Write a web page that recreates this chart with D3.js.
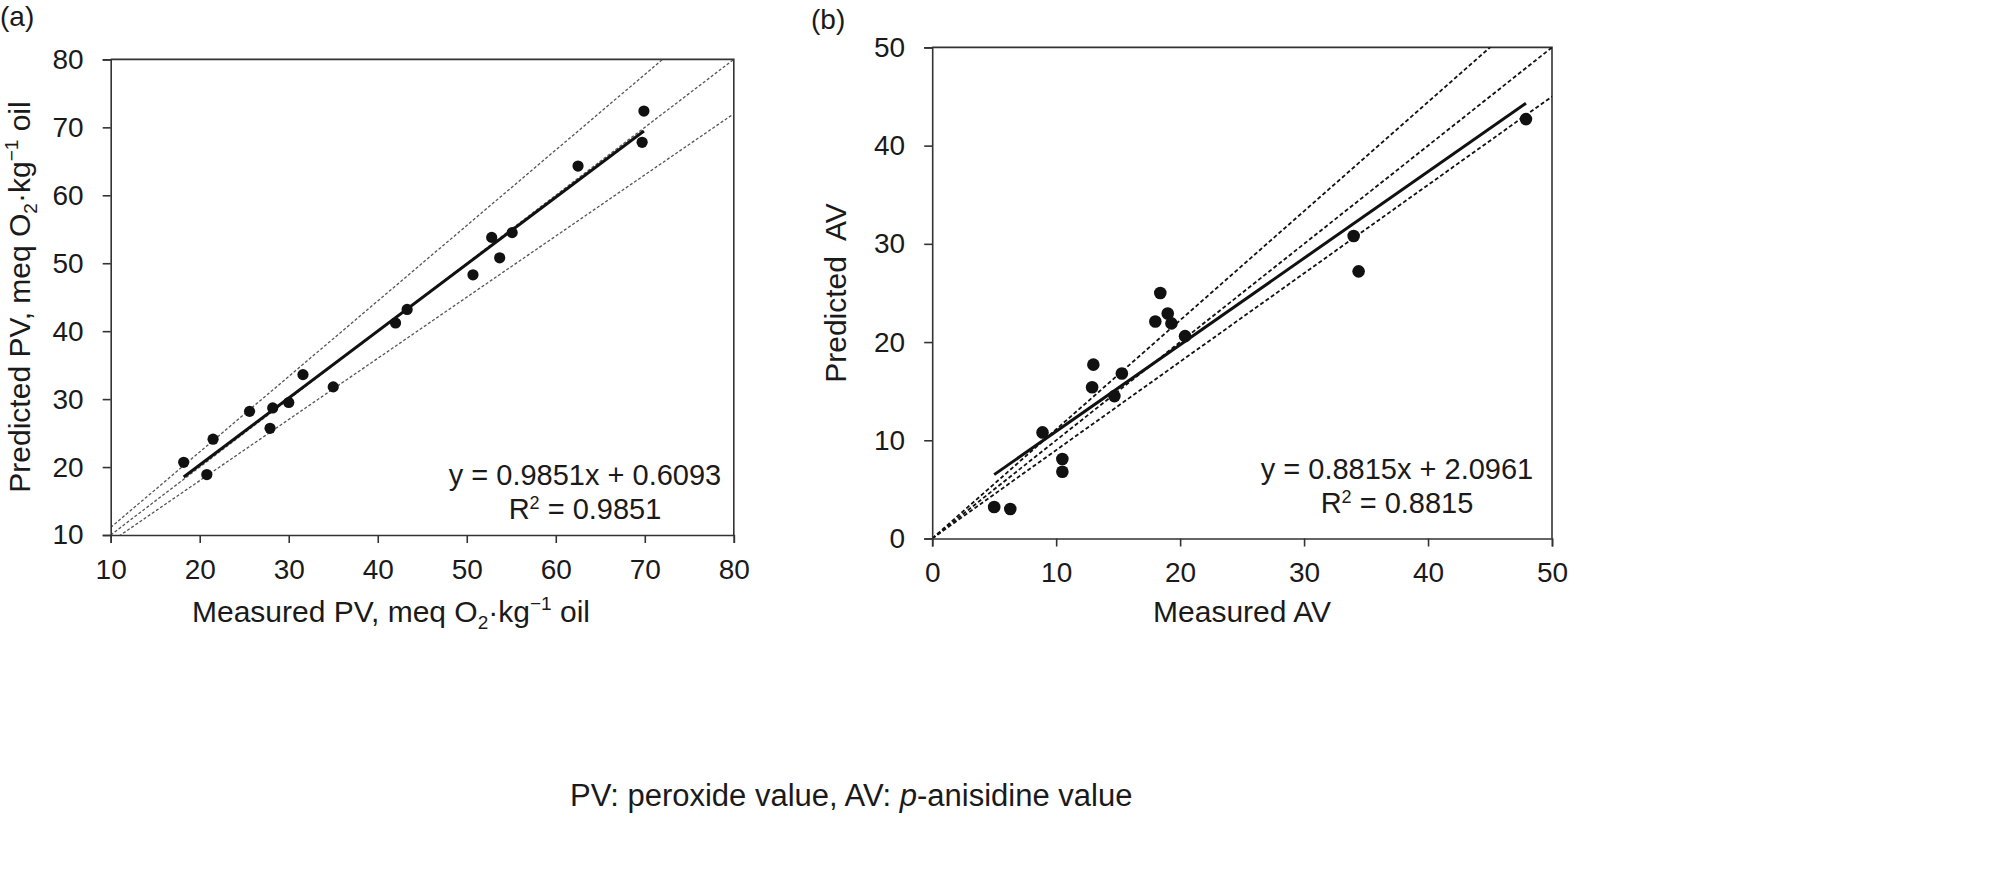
<!DOCTYPE html>
<html>
<head>
<meta charset="utf-8">
<script src="https://cdn.jsdelivr.net/npm/d3@7"></script>
<style>
  html, body { margin: 0; padding: 0; background: #fff; }
  svg text { font-family: "Liberation Sans", Arial, Helvetica, sans-serif; fill: #1a1a1a; }
</style>
</head>
<body>
<svg id="chart" width="2010" height="886"></svg>
<script>
// ---- Data ----
const pvMeasured  = [18.2, 20.8, 21.5, 25.6, 27.9, 28.2, 30.0, 31.6, 35.0, 42.0, 43.3, 50.7, 52.8, 53.7, 55.1, 62.5, 69.9, 69.7];
const pvPredicted = [20.7, 18.9, 24.1, 28.2, 25.7, 28.7, 29.5, 33.6, 31.8, 41.2, 43.2, 48.3, 53.8, 50.8, 54.5, 64.3, 72.4, 67.8];
const avMeasured  = [5.0, 6.3, 8.9, 10.5, 10.5, 13.0, 12.9, 14.7, 15.3, 18.0, 18.4, 19.0, 19.3, 20.4, 34.0, 34.4, 47.9];
const avPredicted = [3.2, 3.0, 10.8, 8.1, 6.8, 17.7, 15.4, 14.5, 16.8, 22.1, 25.0, 22.9, 21.9, 20.6, 30.8, 27.2, 42.7];
const pvTicks = [10, 20, 30, 40, 50, 60, 70, 80];
const avTicks = [0, 10, 20, 30, 40, 50];
const pvFit = { slope: 0.9851, intercept: 0.6093, r2: "0.9851", eq: "y = 0.9851x + 0.6093" };
const avFit = { slope: 0.8815, intercept: 2.0961, r2: "0.8815", eq: "y = 0.8815x + 2.0961" };
const refSlopes = [1 / 0.9, 1, 0.9];

const svg = d3.select("#chart");

function panel(opt) {
  const x = d3.scaleLinear().domain(opt.domain).range([opt.left, opt.right]);
  const y = d3.scaleLinear().domain(opt.domain).range([opt.bottom, opt.top]);
  const g = svg.append("g");
  const clipId = "clip-" + opt.name;
  svg.append("clipPath").attr("id", clipId).append("rect")
    .attr("x", opt.left).attr("y", opt.top)
    .attr("width", opt.right - opt.left).attr("height", opt.bottom - opt.top);

  // frame (top / right)
  g.append("path")
    .attr("d", `M${opt.left},${opt.top}H${opt.right}V${opt.bottom}`)
    .attr("fill", "none").attr("stroke", "#333").attr("stroke-width", 1.6);

  // reference lines (y = x, +/-10 %)
  const d0 = opt.domain[0], d1 = opt.domain[1];
  const refG = g.append("g").attr("clip-path", `url(#${clipId})`);
  refSlopes.forEach(s => {
    refG.append("line")
      .attr("x1", x(d0)).attr("y1", y(s * d0))
      .attr("x2", x(d1)).attr("y2", y(s * d1))
      .attr("stroke", opt.dashColor).attr("stroke-width", opt.dashWidth)
      .attr("stroke-dasharray", opt.dash);
  });

  // regression line from min to max measured value
  const xmin = d3.min(opt.xs), xmax = d3.max(opt.xs);
  g.append("line")
    .attr("x1", x(xmin)).attr("y1", y(opt.fit.slope * xmin + opt.fit.intercept))
    .attr("x2", x(xmax)).attr("y2", y(opt.fit.slope * xmax + opt.fit.intercept))
    .attr("stroke", "#111").attr("stroke-width", 3).attr("stroke-linecap", "butt");

  // points
  g.append("g").selectAll("circle").data(opt.xs.map((v, i) => [v, opt.ys[i]])).join("circle")
    .attr("cx", d => x(d[0])).attr("cy", d => y(d[1])).attr("r", opt.r).attr("fill", "#111");

  // axes
  const xa = g.append("g").attr("transform", `translate(0,${opt.bottom})`)
    .call(d3.axisBottom(x).tickValues(opt.ticks).tickFormat(d3.format("d")).tickSize(8).tickPadding(16));
  const ya = g.append("g").attr("transform", `translate(${opt.left},0)`)
    .call(d3.axisLeft(y).tickValues(opt.ticks).tickFormat(d3.format("d")).tickSize(8).tickPadding(19));
  [xa, ya].forEach(a => {
    a.select(".domain").attr("stroke", "#333").attr("stroke-width", 1.6);
    a.selectAll(".tick line").attr("stroke", "#333").attr("stroke-width", 1.6);
    a.selectAll(".tick text").attr("font-size", 28).attr("fill", "#1a1a1a")
      .attr("font-family", "Liberation Sans, Arial, sans-serif");
  });

  // equation
  g.append("text").attr("x", opt.eqX).attr("y", opt.eqY)
    .attr("text-anchor", "middle").attr("font-size", 29).text(opt.fit.eq);
  const r2 = g.append("text").attr("x", opt.eqX).attr("y", opt.eqY + 34)
    .attr("text-anchor", "middle").attr("font-size", 29);
  r2.append("tspan").text("R");
  r2.append("tspan").attr("font-size", 18).attr("dy", -10).text("2");
  r2.append("tspan").attr("dy", 10).text(" = " + opt.fit.r2);

  // panel label
  g.append("text").attr("x", opt.labX).attr("y", opt.labY).attr("font-size", 28).text(opt.label);
  return { x, y, g };
}

panel({
  name: "a", domain: [10, 80], ticks: pvTicks,
  left: 110.7, right: 733.8, top: 59.4, bottom: 535,
  xs: pvMeasured, ys: pvPredicted, fit: pvFit, r: 5.6,
  dashColor: "#555", dashWidth: 1.3, dash: "3,2",
  eqX: 585, eqY: 485, label: "(a)", labX: 0, labY: 26
});
panel({
  name: "b", domain: [0, 50], ticks: avTicks,
  left: 932.2, right: 1552, top: 47.4, bottom: 538.5,
  xs: avMeasured, ys: avPredicted, fit: avFit, r: 6.3,
  dashColor: "#111", dashWidth: 1.8, dash: "4,2.5",
  eqX: 1397, eqY: 479, label: "(b)", labX: 811, labY: 29
});

// axis titles with sub/superscripts
function unitTitle(parent, attrs, prefix) {
  const t = parent.append("text").attr("font-size", 30).attr("text-anchor", "middle");
  Object.entries(attrs).forEach(([k, v]) => t.attr(k, v));
  t.append("tspan").text(prefix + "meq O");
  t.append("tspan").attr("font-size", 19).attr("dy", 7).text("2");
  t.append("tspan").attr("dy", -7).text("·kg");
  t.append("tspan").attr("font-size", 19).attr("dy", -12).text("−1");
  t.append("tspan").attr("dy", 12).text(" oil");
  return t;
}
unitTitle(svg, { x: 391, y: 622 }, "Measured PV, ");
unitTitle(svg, { transform: "translate(30,297) rotate(-90)" }, "Predicted PV, ");

svg.append("text").attr("x", 1242).attr("y", 622).attr("text-anchor", "middle")
  .attr("font-size", 30).text("Measured AV");
svg.append("text").attr("transform", "translate(846,293) rotate(-90)").attr("text-anchor", "middle")
  .attr("font-size", 30).style("white-space", "pre").text("Predicted  AV");

// caption
const cap = svg.append("text").attr("x", 570).attr("y", 806).attr("text-anchor", "start").attr("font-size", 31);
cap.append("tspan").text("PV: peroxide value, AV: ");
cap.append("tspan").attr("font-style", "italic").text("p");
cap.append("tspan").text("-anisidine value");
</script>
</body>
</html>
